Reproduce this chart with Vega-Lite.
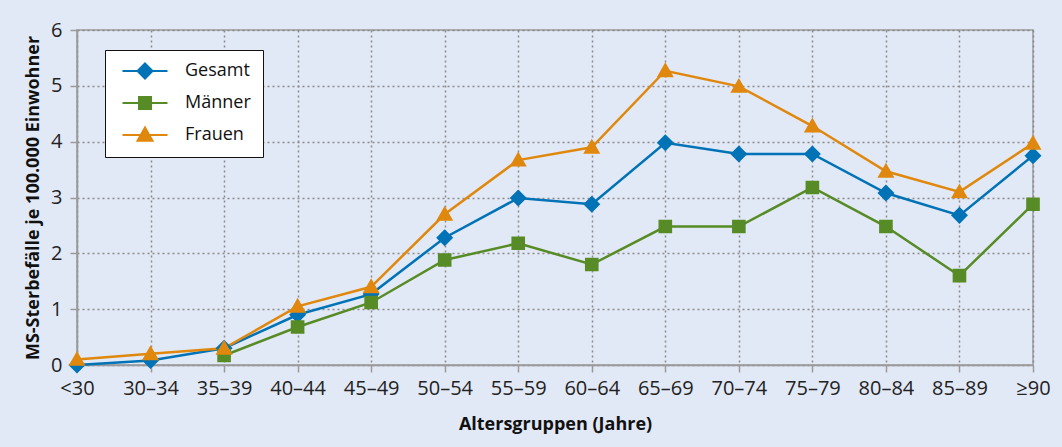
{
  "$schema": "https://vega.github.io/schema/vega-lite/v6.json",
  "width": 956,
  "height": 335,
  "autosize": {"type": "none"},
  "padding": {"left": 77, "top": 30, "right": 29, "bottom": 82},
  "background": "#E2E9F6",
  "config": {
    "font": "Open Sans",
    "view": {"stroke": "#9a9a9a", "strokeWidth": 1.5},
    "axis": {
      "domainColor": "#9a9a9a",
      "domainWidth": 1.5,
      "tickColor": "#9a9a9a",
      "tickWidth": 1.5,
      "tickSize": 7,
      "grid": true,
      "gridColor": "#8a8a8a",
      "gridOpacity": 1,
      "gridDash": [2, 3],
      "gridWidth": 1.5
    }
  },
  "data": {
    "values": [
      {"age": "<30", "group": "Gesamt", "value": 0},
      {"age": "30–34", "group": "Gesamt", "value": 0.08},
      {"age": "35–39", "group": "Gesamt", "value": 0.3},
      {"age": "40–44", "group": "Gesamt", "value": 0.9},
      {"age": "45–49", "group": "Gesamt", "value": 1.27},
      {"age": "50–54", "group": "Gesamt", "value": 2.28},
      {"age": "55–59", "group": "Gesamt", "value": 2.99},
      {"age": "60–64", "group": "Gesamt", "value": 2.88},
      {"age": "65–69", "group": "Gesamt", "value": 3.98},
      {"age": "70–74", "group": "Gesamt", "value": 3.78},
      {"age": "75–79", "group": "Gesamt", "value": 3.78},
      {"age": "80–84", "group": "Gesamt", "value": 3.08},
      {"age": "85–89", "group": "Gesamt", "value": 2.68},
      {"age": "≥90", "group": "Gesamt", "value": 3.75},
      {"age": "35–39", "group": "Männer", "value": 0.17},
      {"age": "40–44", "group": "Männer", "value": 0.68},
      {"age": "45–49", "group": "Männer", "value": 1.12},
      {"age": "50–54", "group": "Männer", "value": 1.88},
      {"age": "55–59", "group": "Männer", "value": 2.18},
      {"age": "60–64", "group": "Männer", "value": 1.8},
      {"age": "65–69", "group": "Männer", "value": 2.48},
      {"age": "70–74", "group": "Männer", "value": 2.48},
      {"age": "75–79", "group": "Männer", "value": 3.18},
      {"age": "80–84", "group": "Männer", "value": 2.48},
      {"age": "85–89", "group": "Männer", "value": 1.6},
      {"age": "≥90", "group": "Männer", "value": 2.88},
      {"age": "<30", "group": "Frauen", "value": 0.1},
      {"age": "30–34", "group": "Frauen", "value": 0.2},
      {"age": "35–39", "group": "Frauen", "value": 0.3},
      {"age": "40–44", "group": "Frauen", "value": 1.05},
      {"age": "45–49", "group": "Frauen", "value": 1.4},
      {"age": "50–54", "group": "Frauen", "value": 2.7},
      {"age": "55–59", "group": "Frauen", "value": 3.67},
      {"age": "60–64", "group": "Frauen", "value": 3.9},
      {"age": "65–69", "group": "Frauen", "value": 5.27},
      {"age": "70–74", "group": "Frauen", "value": 4.99},
      {"age": "75–79", "group": "Frauen", "value": 4.28},
      {"age": "80–84", "group": "Frauen", "value": 3.47},
      {"age": "85–89", "group": "Frauen", "value": 3.1},
      {"age": "≥90", "group": "Frauen", "value": 3.97}
    ]
  },
  "encoding": {
    "x": {
      "field": "age",
      "type": "ordinal",
      "sort": ["<30", "30–34", "35–39", "40–44", "45–49", "50–54", "55–59", "60–64", "65–69", "70–74", "75–79", "80–84", "85–89", "≥90"],
      "scale": {"type": "point", "padding": 0},
      "axis": {
        "grid": true,
        "labelAngle": 0,
        "labelPadding": 6,
        "labelFont": "Open Sans",
        "labelFontSize": 20,
        "labelColor": "#222222",
        "title": "Altersgruppen (Jahre)",
        "titleFont": "Open Sans",
        "titleFontSize": 18,
        "titleFontWeight": "bold",
        "titleColor": "#111111",
        "titlePadding": 17
      }
    },
    "y": {
      "field": "value",
      "type": "quantitative",
      "scale": {"domain": [0, 6], "nice": false},
      "axis": {
        "grid": true,
        "values": [0, 1, 2, 3, 4, 5, 6],
        "labelPadding": 8,
        "labelFont": "Open Sans",
        "labelFontSize": 20,
        "labelColor": "#222222",
        "title": "MS-Sterbefälle je 100.000 Einwohner",
        "titleFont": "Open Sans",
        "titleFontSize": 18,
        "titleFontWeight": "bold",
        "titleColor": "#111111",
        "titlePadding": 8
      }
    },
    "color": {
      "field": "group",
      "type": "nominal",
      "scale": {"domain": ["Gesamt", "Männer", "Frauen"], "range": ["#0072B6", "#578B25", "#E0880D"]},
      "legend": {"title": null, "orient": "none", "legendX": 28, "legendY": 20, "fillColor": "#ffffff", "strokeColor": "#111111", "padding": 12, "rowPadding": 10, "symbolSize": 225, "symbolOffset": 19, "symbolStrokeWidth": 2, "labelOffset": 31, "labelFont": "Open Sans", "labelFontSize": 18, "labelColor": "#111111"}
    }
  },
  "layer": [
    {
      "mark": {"type": "line", "strokeWidth": 2.5}
    },
    {
      "mark": {"type": "point", "filled": true, "size": 290, "opacity": 1, "strokeWidth": 0},
      "encoding": {
        "shape": {
          "field": "group",
          "type": "nominal",
          "scale": {
            "domain": ["Gesamt", "Männer", "Frauen"],
            "range": [
              "M-3,0L3,0M0,-1L1,0L0,1L-1,0Z",
              "M-3,0L3,0M-0.8,-0.8L0.8,-0.8L0.8,0.8L-0.8,0.8Z",
              "M-3,0L3,0M0,-1L1,0.75L-1,0.75Z"
            ]
          },
          "legend": {"title": null, "orient": "none", "legendX": 28, "legendY": 20, "fillColor": "#ffffff", "strokeColor": "#111111", "padding": 12, "rowPadding": 10, "symbolSize": 225, "symbolOffset": 19, "symbolStrokeWidth": 2, "labelOffset": 31, "labelFont": "Open Sans", "labelFontSize": 18, "labelColor": "#111111"}
        }
      }
    }
  ]
}
